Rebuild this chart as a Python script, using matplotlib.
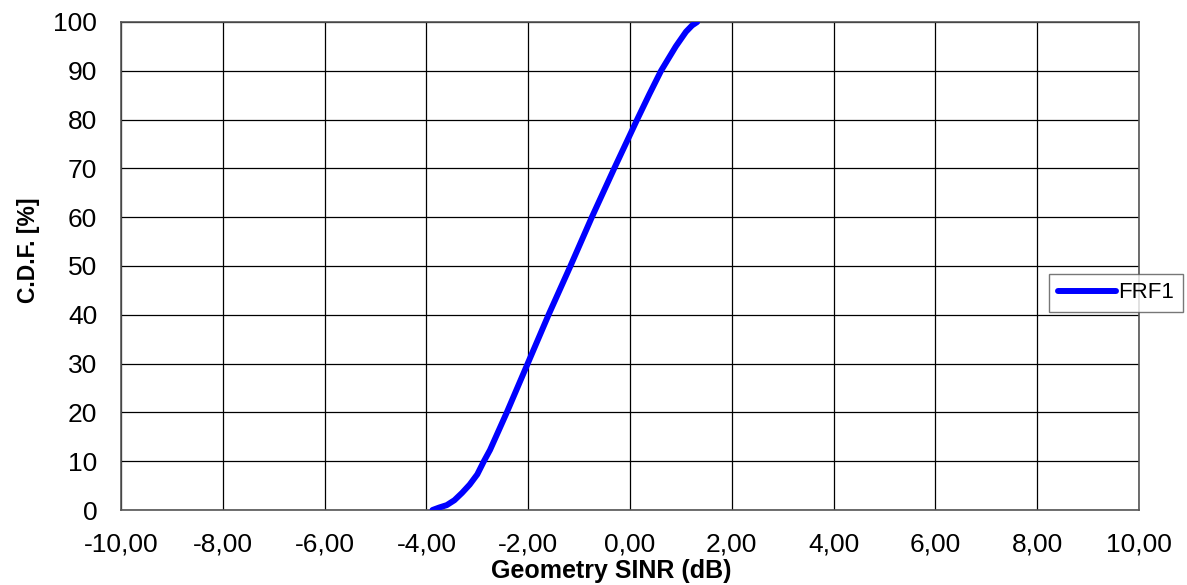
import matplotlib.pyplot as plt
from matplotlib.ticker import FuncFormatter

plt.rcParams['font.family'] = ['Liberation Sans', 'DejaVu Sans']

# CDF curve
sinr_db = [-3.88, -3.75, -3.6, -3.45, -3.3, -3.15, -3.0, -2.87, -2.75, -2.42,
           -2.01, -1.6, -1.17, -0.75, -0.31, 0.14, 0.38, 0.61,
           0.9, 1.1, 1.22, 1.32]
cdf_pct = [0, 0.5, 1.0, 2.0, 3.5, 5.2, 7.3, 10, 12.3, 20,
           30, 40, 50, 60, 70, 80, 85.2, 90,
           95, 98, 99.3, 100]

x_ticks = list(range(-10, 11, 2))
y_ticks = list(range(0, 101, 10))

fig = plt.figure(figsize=(11.87, 5.85), dpi=100)
ax = fig.add_axes([0.1019, 0.1282, 0.8577, 0.8342])

ax.plot(sinr_db, cdf_pct, color='#0000ff', lw=4.3, solid_capstyle='round',
        solid_joinstyle='round', label='FRF1', zorder=3)

ax.set_xlim(-10, 10)
ax.set_ylim(0, 100)
ax.set_xticks(x_ticks)
ax.set_yticks(y_ticks)
ax.xaxis.set_major_formatter(FuncFormatter(lambda v, p: f'{v:.2f}'.replace('.', ',')))
ax.grid(True, color='black', lw=0.9)
ax.tick_params(axis='both', length=0, labelsize=19)
ax.tick_params(axis='x', pad=16)
ax.tick_params(axis='y', pad=17)
for s in ax.spines.values():
    s.set_color('#555555')
    s.set_linewidth(1.2)

ax.set_xlabel('Geometry SINR (dB)', fontsize=18, fontweight='bold', labelpad=0)
ax.xaxis.set_label_coords(0.482, -0.1)
ax.set_ylabel('C.D.F. [%]', fontsize=16.5, fontweight='bold')
ax.yaxis.set_label_coords(-0.08, 0.533)

leg = ax.legend(loc='center left', bbox_to_anchor=(1049 / 1187, 292 / 585),
                bbox_transform=fig.transFigure, fontsize=16, frameon=True,
                fancybox=False, edgecolor='#555555', handlelength=2.6,
                handletextpad=0.1, borderpad=0.4, borderaxespad=0)
leg.get_frame().set_linewidth(1.0)
leg.set_zorder(5)

fig.savefig('out.png', dpi=100)
